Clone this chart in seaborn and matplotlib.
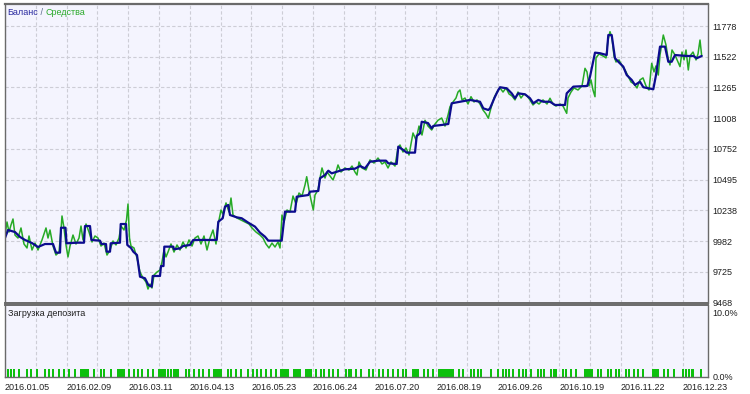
import matplotlib
matplotlib.use('Agg')
import matplotlib.pyplot as plt
import pandas as pd
import seaborn as sns

sns.set_style('white')
plt.rcParams['font.family'] = ['Liberation Sans', 'DejaVu Sans']

# ---------------- data (deal position t, account value) ----------------
bal_t = [5, 8, 15, 20, 25, 32, 38, 45, 53, 56, 60, 61, 65.5, 66.5, 77, 84, 85, 90, 91.5, 100,
         101.5, 106, 106.7, 110, 110.7, 120, 120.7, 126, 127.3, 131, 133.3, 137, 140, 145, 148.3,
         151.7, 152.7, 160, 161, 163.5, 164.3, 173.3, 174, 180, 183, 190, 192, 193.3, 216.7, 218.3,
         222.7, 225, 228.3, 230, 236.7, 241.7, 248.3, 255, 260, 265, 268.3, 281.7, 285, 295, 296.7,
         308.3, 310, 318.3, 320, 325, 328.3, 331.7, 340, 345, 355, 360, 365, 370, 378.3, 386,
         388.3, 396.7, 398.3, 403.3, 406.7, 415, 416.7, 420, 421.7, 428, 431.7, 433.3, 441.7, 448.3,
         451.7, 460, 470, 480, 483.3, 488.3, 490, 495, 498.3, 500, 506.7, 511.7, 515, 518.3, 525,
         530, 533.3, 538.3, 543.3, 550, 555, 565, 566.7, 573.3, 587.3, 590, 595, 600, 606.7, 608.3,
         611.7, 613.3, 615, 618.3, 623.3, 626.7, 631.7, 635, 640, 643.3, 653.3, 656, 660, 665,
         668.3, 671.7, 675, 686.7, 693.3, 696.7, 701.7]
bal_v = [10008, 10075, 10058, 10017, 9992, 9966, 9933, 9958, 9958, 9886, 9886, 10094, 10094, 9964,
         9969, 9969, 10108, 10108, 9992, 9986, 9958, 9958, 9894, 9894, 9964, 9969, 10125, 10125,
         9950, 9925, 9894, 9866, 9685, 9672, 9616, 9602, 9691, 9691, 9774, 9774, 9936, 9936, 9914,
         9922, 9941, 9950, 9977, 9992, 9992, 10144, 10173, 10270, 10284, 10200, 10181, 10173, 10136,
         10103, 10053, 10019, 9986, 9986, 10228, 10228, 10353, 10367, 10395, 10401, 10507, 10534,
         10570, 10548, 10570, 10582, 10587, 10609, 10590, 10645, 10654, 10654, 10632, 10626, 10771,
         10743, 10721, 10721, 10860, 10882, 10979, 10968, 10924, 10944, 10952, 10960, 11133, 11146,
         11161, 11146, 11091, 11077, 11091, 11188, 11244, 11267, 11258, 11216, 11175, 11216, 11208,
         11175, 11133, 11161, 11146, 11146, 11119, 11119, 11216, 11272, 11278, 11355, 11556, 11551,
         11536, 11703, 11703, 11606, 11509, 11480, 11439, 11369, 11328, 11286, 11313, 11267, 11250,
         11369, 11606, 11606, 11480, 11480, 11536, 11528, 11528, 11509, 11528]

eq_t = [5, 7, 9, 11, 13, 15, 18, 21, 24, 27, 29, 32, 35, 38, 42, 46, 48, 50, 53, 56, 59, 61, 62,
        64, 66, 68, 70, 73, 76, 79, 81, 83, 86, 89, 92, 95, 98, 101, 104, 107, 110, 113, 116, 119,
        121, 124, 126.5, 128, 129.5, 131, 134, 137, 140, 143, 146, 148, 150, 152, 154, 157, 160,
        162, 164, 166, 168, 171, 174, 177, 180, 183, 186, 189, 192, 195, 198, 201, 204, 207, 210,
        213, 216, 218, 221, 223, 226, 229, 231, 233, 237, 241, 245, 249, 252, 256, 260, 263, 266,
        269, 272, 275, 278, 280, 282, 284, 287, 290, 293, 296, 299, 302, 305, 306.7, 309, 311,
        313.3, 315, 318, 320, 322, 325, 327, 330, 333, 336, 338, 341, 345, 349, 352, 355, 357, 359,
        362, 366, 370, 374, 378, 382, 385, 388, 391, 395, 398, 400, 403, 406, 409, 413, 416, 419,
        422, 425, 428, 431.7, 435, 438, 441.7, 445, 448, 450, 453, 456, 458, 460, 462, 465, 468,
        471, 474, 477, 480, 483, 486, 488.3, 491, 494, 497, 500, 503, 506, 509, 512, 515, 518, 521,
        524, 527, 530, 533, 536, 539, 543, 547, 550, 553, 556, 560, 563, 566.7, 568, 571, 574, 578,
        582, 585, 587, 589, 591, 593, 595, 596, 599, 603, 606, 608, 610, 612, 614, 616, 619, 622,
        625, 628, 631, 634, 637, 640, 643, 646, 649, 651.7, 654, 656, 658.3, 660, 663.3, 666, 668,
        670, 672, 675, 678, 680, 682, 684, 686, 688.3, 690, 693, 696, 698, 700, 701.7]
eq_v = [10033, 10142, 10058, 10117, 10167, 10033, 10008, 10092, 9958, 9925, 10025, 9908, 9966,
        9908, 9992, 10092, 10008, 10075, 9941, 9866, 9891, 10075, 10192, 10092, 9950, 9850, 9941,
        10033, 9958, 10008, 10108, 9992, 10125, 10058, 9975, 10025, 10008, 9941, 9966, 9866, 9908,
        9983, 9950, 10008, 10108, 10075, 10158, 10292, 10008, 9941, 9925, 9841, 9724, 9674, 9641,
        9582, 9624, 9591, 9699, 9724, 9741, 9808, 9908, 9850, 9891, 9958, 9891, 9950, 9908, 9975,
        9925, 9992, 9941, 10008, 10025, 9958, 10025, 9908, 10008, 10075, 9958, 10117, 10242, 10208,
        10301, 10226, 10342, 10200, 10175, 10158, 10142, 10125, 10092, 10058, 10033, 10008, 9958,
        9925, 9966, 9933, 9975, 9925, 10200, 10142, 10242, 10226, 10359, 10292, 10384, 10359, 10451,
        10520, 10409, 10326, 10242, 10367, 10409, 10509, 10593, 10509, 10559, 10526, 10493, 10559,
        10618, 10559, 10593, 10576, 10609, 10559, 10534, 10643, 10593, 10576, 10660, 10634, 10676,
        10626, 10643, 10593, 10643, 10609, 10760, 10785, 10726, 10760, 10701, 10885, 10826, 10943,
        10868, 10991, 10943, 10910, 10960, 10991, 11010, 10943, 11034, 11105, 11144, 11177, 11227,
        11244, 11161, 11177, 11127, 11188, 11144, 11161, 11127, 11077, 11044, 11008, 11094, 11177,
        11227, 11261, 11227, 11261, 11211, 11194, 11161, 11227, 11177, 11211, 11194, 11161, 11119,
        11144, 11127, 11161, 11127, 11175, 11127, 11110, 11127, 11110, 11049, 11177, 11227, 11261,
        11244, 11278, 11425, 11395, 11278, 11328, 11244, 11188, 11512, 11545, 11528, 11512, 11661,
        11731, 11678, 11528, 11478, 11495, 11445, 11411, 11361, 11311, 11295, 11261, 11328, 11345,
        11278, 11244, 11467, 11395, 11445, 11369, 11536, 11703, 11620, 11512, 11453, 11578, 11536,
        11478, 11439, 11561, 11495, 11578, 11411, 11528, 11561, 11495, 11545, 11661, 11528]

load_start = [7, 10, 13, 18, 26, 30, 36, 44, 48, 52, 58, 63, 68, 74, 80, 83, 86, 93, 100, 103, 110,
              117, 128, 133, 137, 141, 147, 152, 158, 167, 170, 173, 185, 188, 193, 198, 202, 208,
              213, 227, 230, 235, 240, 247,
              252, 256, 260, 265, 270, 275, 280, 285, 293, 305, 315, 320, 323, 328, 332, 337, 345,
              348, 350, 355, 360, 368, 372, 378, 382, 387, 392, 397, 402, 405, 412, 423, 427, 432,
              438, 441, 458, 462, 470, 473, 477, 480, 490, 497,
              502, 505, 508, 512, 518, 522, 525, 530, 537, 540, 543, 550, 553, 555, 562, 565, 570,
              575, 584, 597, 600, 607, 610, 615, 618, 625, 628, 633, 637, 642, 652, 663, 667, 673,
              682, 685, 688, 691, 700]
load_end = [8, 11, 14, 19, 27, 31, 37, 45, 49, 53, 59, 64, 69, 75, 82, 85, 88, 94, 101, 104, 111,
            124, 129, 134, 138, 142, 148, 153, 165, 168, 171, 178, 186, 189, 194, 199, 203, 209,
            221, 228, 231, 236, 241, 248,
            253, 257, 261, 266, 271, 276, 284, 288, 300, 311, 316, 321, 324, 329, 333, 338, 346,
            349, 351, 356, 361, 369, 373, 379, 383, 388, 393, 398, 403, 406, 418, 424, 428, 433,
            440, 453, 459, 463, 471, 474, 478, 481, 491, 498,
            503, 506, 509, 513, 519, 523, 526, 531, 538, 541, 544, 551, 554, 556, 563, 566, 571,
            576, 592, 598, 601, 608, 611, 616, 619, 626, 629, 634, 638, 643, 658, 664, 668, 674,
            683, 686, 689, 693, 701]
load_pct = [1.2, 1.2, 1.2, 1.2, 1.2, 1.2, 1.2, 1.2, 1.2, 1.2, 1.2, 1.2, 1.2, 1.2, 1.2, 1.2, 1.2,
            1.2, 1.2, 1.2, 1.2, 1.2, 1.2, 1.2, 1.2, 1.2, 1.2, 1.2, 1.2, 1.2, 1.2, 1.2, 1.2, 1.2,
            1.2, 1.2, 1.2, 1.2, 1.2, 1.2, 1.2, 1.2, 1.2, 1.2,
            1.2, 1.2, 1.2, 1.2, 1.2, 1.2, 1.2, 1.2, 1.2, 1.2, 1.2, 1.2, 1.2, 1.2, 1.2, 1.2, 1.2,
            1.2, 1.2, 1.2, 1.2, 1.2, 1.2, 1.2, 1.2, 1.2, 1.2, 1.2, 1.2, 1.2, 1.2, 1.2, 1.2, 1.2,
            1.2, 1.2, 1.2, 1.2, 1.2, 1.2, 1.2, 1.2, 1.2, 1.2,
            1.2, 1.2, 1.2, 1.2, 1.2, 1.2, 1.2, 1.2, 1.2, 1.2, 1.2, 1.2, 1.2, 1.2, 1.2, 1.2, 1.2,
            1.2, 1.2, 1.2, 1.2, 1.2, 1.2, 1.2, 1.2, 1.2, 1.2, 1.2, 1.2, 1.2, 1.2, 1.2, 1.2, 1.2,
            1.2, 1.2, 1.2, 1.2, 1.2]

date_labels = ['2016.01.05', '2016.02.09', '2016.03.11', '2016.04.13', '2016.05.23', '2016.06.24',
               '2016.07.20', '2016.08.19', '2016.09.26', '2016.10.19', '2016.11.22', '2016.12.23']
y_ticks = [9468, 9725, 9982, 10238, 10495, 10752, 11008, 11265, 11522, 11778]
load_ticks = [0, 10]
load_tick_labels = ['0.0%', '10.0%']
title_parts = ['Баланс', ' / ', 'Средства']

# ---------------- figure ----------------
W, H = 750, 394
fig = plt.figure(figsize=(W / 100, H / 100), dpi=100)
fig.patch.set_facecolor('white')

BG = '#F4F4FE'
SPINE = '#6A6A6A'
GRID = '#CDCDD6'
BLUE = '#0C0C8E'
GREEN = '#26AA26'
BARG = '#0CC00C'
FS = 6.5

ax1 = fig.add_axes([4.5 / W, 1 - 303 / H, 703 / W, 299 / H])
ax2 = fig.add_axes([4.5 / W, 1 - 377 / H, 703 / W, 72 / H])

step = 30.8
x0 = 5
major = [x0 + 2 * step * i for i in range(len(date_labels))]
minor = [x0 + step * (2 * i + 1) for i in range(11)]

for ax in (ax1, ax2):
    ax.set_facecolor(BG)
    ax.set_xlim(4.5, 707.5)
    for s in ax.spines.values():
        s.set_color(SPINE)
        s.set_linewidth(1.0)
    ax.set_xticks(major)
    ax.set_xticks(minor, minor=True)
    ax.grid(True, axis='x', which='both', color=GRID, linestyle=(0, (3, 2)), linewidth=0.8)
    ax.set_axisbelow(True)
ax1.spines['top'].set_linewidth(1.6)
ax1.spines['bottom'].set_linewidth(1.4)
ax2.spines['top'].set_linewidth(1.4)

# main panel
eq_df = pd.DataFrame({'t': eq_t, 'v': eq_v})
bal_df = pd.DataFrame({'t': bal_t, 'v': bal_v})
sns.lineplot(data=eq_df, x='t', y='v', sort=False, estimator=None, ax=ax1,
             color=GREEN, linewidth=1.1)
sns.lineplot(data=bal_df, x='t', y='v', sort=False, estimator=None, ax=ax1,
             color=BLUE, linewidth=1.6)
ax1.set_ylim(9465.5, 11962)
ax1.set_yticks(y_ticks)
ax1.set_yticklabels([str(v) for v in y_ticks])
ax1.yaxis.tick_right()
ax1.tick_params(axis='y', length=0, pad=3.5, labelsize=FS, colors='#202020')
ax1.tick_params(axis='x', which='both', length=0, labelbottom=False)
ax1.grid(True, axis='y', color=GRID, linestyle=(0, (3, 2)), linewidth=0.8)
ax1.set_xlabel('')
ax1.set_ylabel('')

# load panel
widths = [e - s + 0.7 for s, e in zip(load_start, load_end)]
ax2.bar(load_start, load_pct, width=widths, align='edge', color=BARG, linewidth=0)
ax2.set_ylim(0, 11.08)
ax2.set_yticks(load_ticks)
ax2.set_yticklabels(load_tick_labels)
ax2.yaxis.tick_right()
ax2.tick_params(axis='y', length=0, pad=3.5, labelsize=FS, colors='#202020')
ax2.tick_params(axis='x', which='major', length=2.5, width=0.8, color=SPINE, pad=1.5,
                labelsize=FS, colors='#202020')
ax2.tick_params(axis='x', which='minor', length=0)
ax2.set_xticklabels(date_labels, ha='left')
ax2.set_xlabel('')
ax2.set_ylabel('')

# title pieces placed one after another
renderer = fig.canvas.get_renderer()
xpix = 7.5
for part, col in zip(title_parts, ['#2A2AA0', '#5A6A8A', '#2AAA2A']):
    t = fig.text(xpix / W, 1 - 12.5 / H, part, color=col, fontsize=FS, va='center', ha='left')
    xpix += t.get_window_extent(renderer).width
fig.text(7.5 / W, 1 - 314 / H, 'Загрузка депозита', color='#202020', fontsize=FS,
         va='center', ha='left')

fig.savefig('out.png', dpi=100, facecolor='white')
